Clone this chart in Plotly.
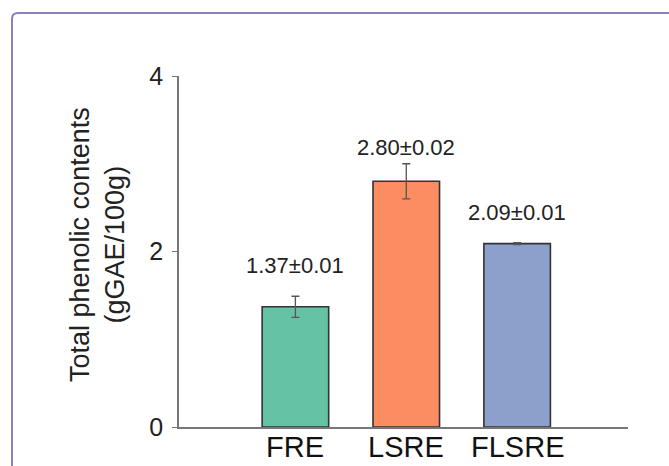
import plotly.graph_objects as go

# Extract data
extracts = ["FRE", "LSRE", "FLSRE"]
phenolic = [1.37, 2.80, 2.09]          # gGAE/100g
error_bar = [0.12, 0.20, 0.01]
value_labels = ["1.37±0.01", "2.80±0.02", "2.09±0.01"]
label_lift = [41, 34, 31]               # px above bar top
bar_colors = ["#66c2a5", "#fc8d62", "#8da0cb"]
y_ticks = [0, 2, 4]

W, H = 669, 466
L, R, T, B = 179, 41, 76, 39
plot_w, plot_h = W - L - R, H - T - B

x_pos = list(range(len(extracts)))
FONT = "Liberation Sans, Arial"

fig = go.Figure()
fig.add_trace(go.Bar(
    x=x_pos, y=phenolic, width=0.6,
    marker=dict(color=bar_colors, line=dict(color="#333333", width=1.6)),
    error_y=dict(type="data", array=error_bar, visible=True,
                 color="#555555", thickness=1.3, width=4),
    showlegend=False,
))

for xi, v, txt, lift in zip(x_pos, phenolic, value_labels, label_lift):
    fig.add_annotation(x=xi, y=v, text=txt, showarrow=False,
                       yshift=lift, yanchor="middle",
                       font=dict(family=FONT, size=22, color="#222222"))

# category names under the axis
for xi, name in zip(x_pos, extracts):
    fig.add_annotation(x=xi, y=0, text=name, showarrow=False,
                       yanchor="top", yshift=-3, borderpad=0,
                       font=dict(family=FONT, size=29, color="#111111"))

# y-axis title as a rotated two-line annotation
def px_to_paper_x(px):
    return (px - L) / plot_w

def py_to_paper_y(py):
    return (H - B - py) / plot_h

fig.add_annotation(
    x=px_to_paper_x(97), y=py_to_paper_y(245), xref="paper", yref="paper",
    text="Total phenolic contents<br>(gGAE/100g)", textangle=-90,
    showarrow=False, xanchor="center", yanchor="middle",
    font=dict(family=FONT, size=27, color="#222222"),
)

# rounded outer frame
x0, y0, r = px_to_paper_x(12), py_to_paper_y(13), 6
xr = px_to_paper_x(12 + r)
yr = py_to_paper_y(13 + r)
frame_path = (f"M {x0},{py_to_paper_y(480)} L {x0},{yr} "
              f"Q {x0},{y0} {xr},{y0} L {px_to_paper_x(700)},{y0}")
fig.add_shape(type="path", path=frame_path, xref="paper", yref="paper",
              line=dict(color="#8884b8", width=2))

fig.update_layout(
    width=W, height=H,
    margin=dict(l=L, r=R, t=T, b=B, pad=0, autoexpand=False),
    paper_bgcolor="white", plot_bgcolor="white",
    font=dict(family=FONT, color="#111111"),
    bargap=0.4,
)
fig.update_xaxes(
    range=[-1.05, 3.0], tickmode="array", tickvals=x_pos, showticklabels=False,
    showgrid=False, zeroline=False, showline=True, linecolor="#777777", linewidth=1.6,
    ticks="", automargin=False,
)
fig.update_yaxes(
    range=[0, 4], tickvals=y_ticks, showgrid=False, zeroline=False,
    showline=True, linecolor="#777777", linewidth=1.6, automargin=False,
    ticks="outside", ticklen=5, tickcolor="#777777", tickwidth=1.3,
    ticklabelstandoff=4,
    tickfont=dict(family=FONT, size=25, color="#222222"),
)

fig.write_html("out.html")
